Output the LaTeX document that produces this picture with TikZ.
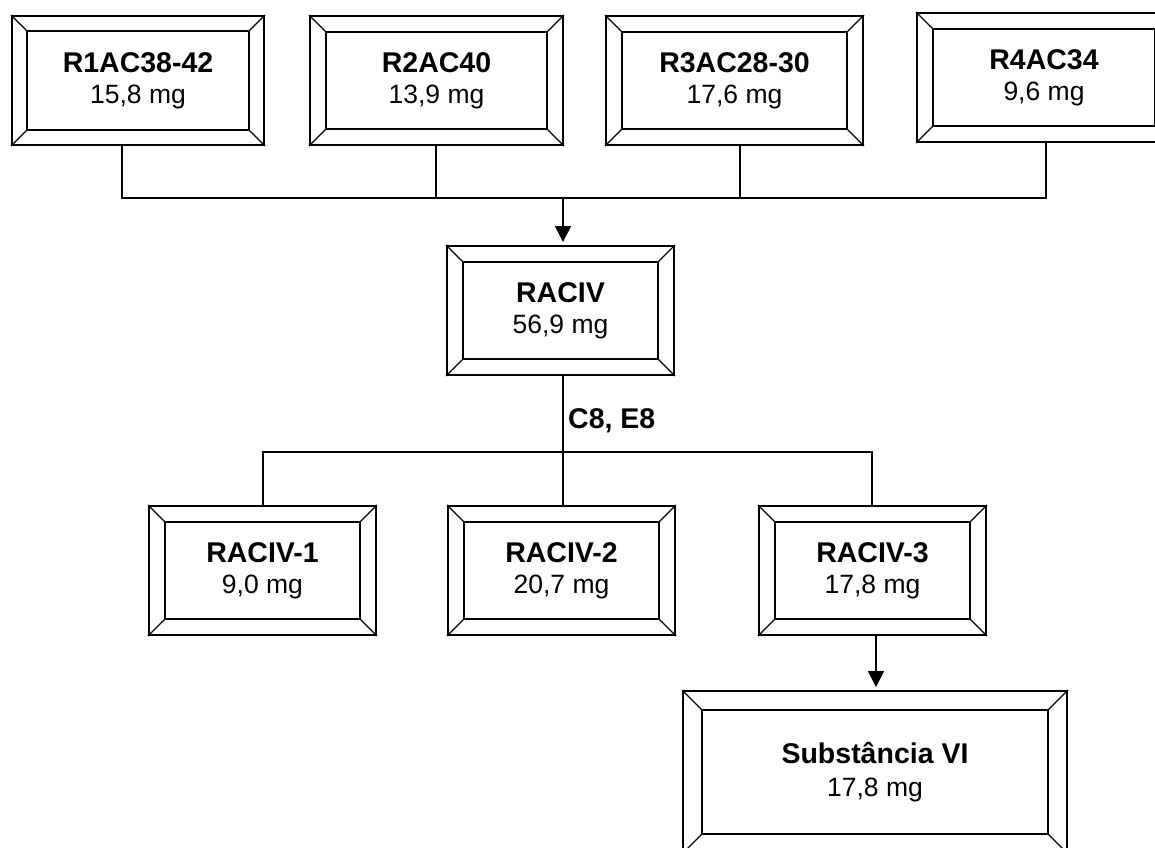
\documentclass[tikz,border=0pt]{standalone}
\usepackage{fontspec}
\setmainfont{Liberation Sans}
\usetikzlibrary{arrows.meta}
\tikzset{
  outerbox/.style={draw=black, line width=2pt, inner sep=0pt, fill=white},
  innerline/.style={draw=black, line width=1.8pt},
  diagline/.style={draw=black, line width=1.2pt},
  boxtext/.style={align=center, inner sep=0pt, font=\fontsize{26.5}{31}\selectfont},
  conn/.style={draw=black, line width=1.7pt},
  arr/.style={conn, -{Triangle[width=16pt,length=16pt]}, shorten >=3pt},
  lbl/.style={inner sep=0pt, font=\fontsize{28.5}{30}\selectfont\bfseries},
}
\newcommand{\bevbox}[7]{%
  \node[outerbox, minimum width=#4pt, minimum height=#5pt] (#1) at (#2,#3) {};
  \draw[innerline] ([xshift=#6pt,yshift=-#6pt]#1.north west) rectangle ([xshift=-#6pt,yshift=#6pt]#1.south east);
  \draw[diagline] (#1.north west) -- ([xshift=#6pt,yshift=-#6pt]#1.north west);
  \draw[diagline] (#1.north east) -- ([xshift=-#6pt,yshift=-#6pt]#1.north east);
  \draw[diagline] (#1.south west) -- ([xshift=#6pt,yshift=#6pt]#1.south west);
  \draw[diagline] (#1.south east) -- ([xshift=-#6pt,yshift=#6pt]#1.south east);
  \node[boxtext] (#1t) at (#1.center) {#7};
}
\newcommand{\ttl}[1]{{\fontsize{28.5}{31}\selectfont\bfseries #1}}
\begin{document}
\begin{tikzpicture}[x=1pt,y=-1pt]
\useasboundingbox (0,0) rectangle (1155,847);
\clip (0,0) rectangle (1155,847);
% top row
\bevbox{b1}{138}{80.5}{252}{129}{16}{\ttl{R1AC38-42}\\15,8 mg}
\bevbox{b2}{436.5}{80.5}{253}{129}{17}{\ttl{R2AC40}\\13,9 mg}
\bevbox{b3}{734.5}{80.5}{257}{129}{17}{\ttl{R3AC28-30}\\17,6 mg}
\bevbox{b4}{1044}{77.5}{254}{129}{17}{\ttl{R4AC34}\\9,6 mg}
% middle
\bevbox{raciv}{560.5}{310.5}{227}{129}{17}{\ttl{RACIV}\\56,9 mg}
% third row
\bevbox{r1}{262.5}{570.5}{227}{129}{17}{\ttl{RACIV-1}\\9,0 mg}
\bevbox{r2}{561.5}{570.5}{227}{129}{17}{\ttl{RACIV-2}\\20,7 mg}
\bevbox{r3}{872.5}{570.5}{227}{129}{17}{\ttl{RACIV-3}\\17,8 mg}
% bottom
\bevbox{sub}{875}{772}{384}{162}{20}{\ttl{Substância VI}\\[2pt]17,8 mg}
% connectors top
\coordinate (j1) at (122,198);
\coordinate (j2) at (436,198);
\coordinate (j3) at (740,198);
\coordinate (j4) at (1046,198);
\coordinate (jm) at (563,198);
\draw[conn] (b1.south -| j1) -- (j1) -- (j4) -- (b4.south -| j4);
\draw[conn] (b2.south -| j2) -- (j2);
\draw[conn] (b3.south -| j3) -- (j3);
\draw[arr] (jm) -- (raciv.north -| jm);
% connectors middle
\coordinate (k1) at (263,452);
\coordinate (k2) at (563,452);
\coordinate (k3) at (872,452);
\coordinate (k4) at (876,660);
\draw[conn] (raciv.south -| k2) -- (k2) -- (r2.north -| k2);
\draw[conn] (r1.north -| k1) -- (k1) -- (k3) -- (r3.north -| k3);
\draw[arr] (r3.south -| k4) -- (sub.north -| k4);
\node[lbl, anchor=base west] (lab) at (568,428) {C8, E8};
\end{tikzpicture}
\end{document}
